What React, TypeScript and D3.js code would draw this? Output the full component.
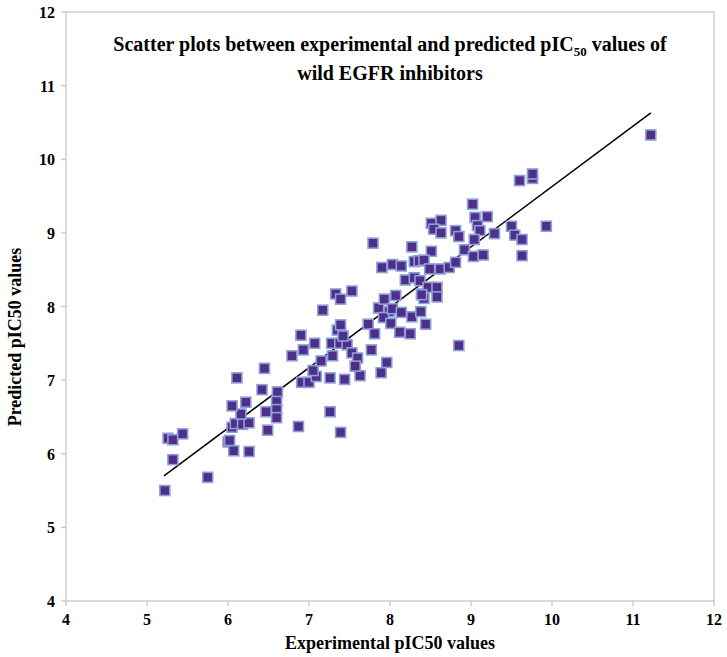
import React from "react";
import * as d3 from "d3";

const experimental: number[] = [
  5.22, 5.26, 5.32, 5.44, 5.32, 5.75, 6.0, 6.02, 6.07, 6.26,
  6.05, 6.09, 6.18, 6.26, 6.16, 6.05, 6.22, 6.11, 6.45, 6.42,
  6.61, 6.6, 6.6, 6.6, 6.47, 6.49, 6.87, 7.39, 7.26, 6.91,
  7.0, 7.09, 7.26, 7.44, 7.63, 7.05, 7.15, 7.29, 6.79, 6.93,
  7.07, 6.9, 7.28, 7.38, 7.47, 7.53, 7.6, 7.57, 7.35, 7.39,
  7.42, 7.17, 7.33, 7.39, 7.53, 7.77, 7.96, 7.89, 7.73, 7.81,
  7.86, 7.93, 8.07, 7.99, 7.92, 8.03, 8.14, 8.01, 8.12, 8.25,
  8.27, 8.38, 8.39, 8.44, 8.19, 8.3, 8.37, 8.47, 8.58, 8.58,
  8.42, 7.79, 8.27, 8.51, 7.9, 8.03, 8.14, 8.3, 8.36, 8.42,
  8.49, 8.62, 8.73, 8.81, 8.51, 8.63, 8.54, 8.63, 8.81, 8.85,
  8.92, 9.02, 9.05, 9.2, 9.08, 9.11, 9.04, 9.03, 9.15, 9.29,
  9.5, 9.54, 9.63, 9.63, 9.93, 9.6, 9.76, 9.76, 11.22, 8.85,
  8.39,
];

const predicted: number[] = [
  5.5, 6.21, 6.19, 6.27, 5.92, 5.68, 6.16, 6.18, 6.04, 6.03,
  6.36, 6.41, 6.4, 6.42, 6.54, 6.65, 6.7, 7.03, 7.16, 6.87,
  6.84, 6.71, 6.6, 6.49, 6.57, 6.32, 6.37, 6.29, 6.57, 6.97,
  6.97, 7.05, 7.03, 7.01, 7.06, 7.13, 7.26, 7.33, 7.33, 7.41,
  7.5, 7.61, 7.5, 7.5, 7.48, 7.37, 7.3, 7.19, 7.68, 7.75,
  7.6, 7.95, 8.17, 8.1, 8.21, 7.41, 7.24, 7.1, 7.76, 7.63,
  7.98, 8.1, 8.15, 7.93, 7.85, 7.97, 7.92, 7.77, 7.65, 7.63,
  7.86, 7.93, 8.17, 7.76, 8.36, 8.39, 8.35, 8.26, 8.26, 8.13,
  8.11, 8.86, 8.81, 8.75, 8.53, 8.57, 8.55, 8.61, 8.62, 8.63,
  8.51, 8.51, 8.53, 8.6, 9.13, 9.17, 9.05, 9.0, 9.03, 8.95,
  8.77, 9.39, 9.21, 9.22, 9.1, 9.03, 8.91, 8.68, 8.7, 8.99,
  9.09, 8.97, 8.91, 8.69, 9.09, 9.71, 9.74, 9.8, 10.33, 7.47,
  8.16,
];

const trendX: number[] = [5.21, 11.22];
const trendY: number[] = [5.7, 10.63];

const xTicks: number[] = [4, 5, 6, 7, 8, 9, 10, 11, 12];
const yTicks: number[] = [4, 5, 6, 7, 8, 9, 10, 11, 12];

const titleLine1 = "Scatter plots between experimental and predicted pIC";
const titleSub = "50";
const titleLine1End = " values of";
const titleLine2 = "wild EGFR inhibitors";
const xLabel = "Experimental pIC50 values";
const yLabel = "Predicted pIC50 values";

export default function App() {
  const W = 727;
  const H = 657;
  const left = 66, right = 714, top = 12, bottom = 601;
  const x = d3.scaleLinear().domain([4, 12]).range([left, right]);
  const y = d3.scaleLinear().domain([4, 12]).range([bottom, top]);
  const font = "'Liberation Serif', 'Times New Roman', serif";
  const grey = "#c4c4c4";
  const m = 10;
  const line = d3
    .line<number>()
    .x((_, i) => x(trendX[i]))
    .y((d) => y(d));

  return (
    <svg
      width={W}
      height={H}
      style={{ position: "absolute", left: 0, top: 0, background: "#fff" }}
      fontFamily={font}
    >
      <rect x={0} y={0} width={W} height={H} fill="#fff" />
      <rect
        x={left}
        y={top}
        width={right - left}
        height={bottom - top}
        fill="none"
        stroke={grey}
        strokeWidth={1.2}
      />
      {xTicks.map((t) => (
        <g key={"x" + t}>
          <line x1={x(t)} x2={x(t)} y1={bottom} y2={bottom + 5} stroke={grey} strokeWidth={1.2} />
          <text x={x(t)} y={bottom + 24} textAnchor="middle" fontSize={16} fontWeight="bold" fontFamily={font}>
            {t}
          </text>
        </g>
      ))}
      {yTicks.map((t) => (
        <g key={"y" + t}>
          <line x1={left - 5} x2={left} y1={y(t)} y2={y(t)} stroke={grey} strokeWidth={1.2} />
          <text x={left - 11} y={y(t) + 6} textAnchor="end" fontSize={16} fontWeight="bold" fontFamily={font}>
            {t}
          </text>
        </g>
      ))}
      <text x={390} y={51} textAnchor="middle" fontSize={20} fontWeight="bold" fontFamily={font}>
        {titleLine1}
        <tspan fontSize={13} dy={5}>{titleSub}</tspan>
        <tspan dy={-5}>{titleLine1End}</tspan>
      </text>
      <text x={390} y={80} textAnchor="middle" fontSize={20} fontWeight="bold" fontFamily={font}>
        {titleLine2}
      </text>
      <text x={390} y={649} textAnchor="middle" fontSize={18} fontWeight="bold" fontFamily={font}>
        {xLabel}
      </text>
      <text
        transform={`translate(21,${337}) rotate(-90)`}
        textAnchor="middle"
        fontSize={18}
        fontWeight="bold"
        fontFamily={font}
      >
        {yLabel}
      </text>
      <path d={line(trendY) || ""} fill="none" stroke="#000" strokeWidth={1.5} />
      {experimental.map((v, i) => (
        <rect
          key={i}
          x={x(v) - m / 2}
          y={y(predicted[i]) - m / 2}
          width={m}
          height={m}
          fill="#4f2f89"
          stroke="#8ea0d8"
          strokeWidth={1.6}
        />
      ))}
    </svg>
  );
}
